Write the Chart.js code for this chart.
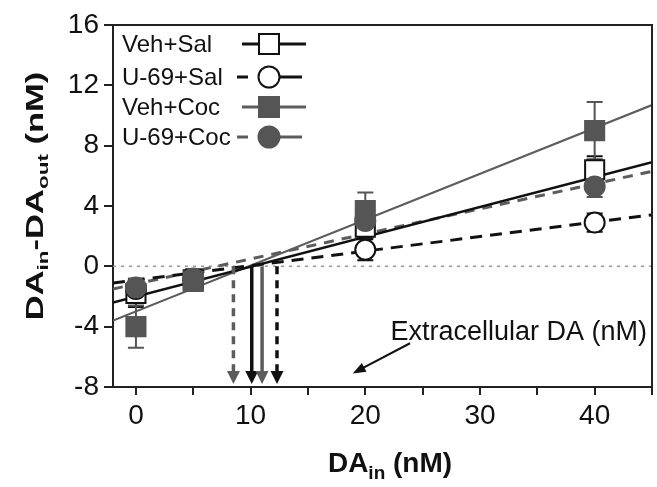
<!DOCTYPE html>
<html>
<head>
<meta charset="utf-8">
<script src="https://cdn.jsdelivr.net/npm/chart.js@4.4.0/dist/chart.umd.min.js"></script>
<style>
  body { margin: 0; background: #fff; }
  #wrap { width: 657px; height: 487px; }
</style>
</head>
<body>
<div id="wrap"><canvas id="chart" width="657" height="487"></canvas></div>
<script>
// data
const doseValues = [0, 5, 20, 40];
const seriesLabels = ["Veh+Sal", "U-69+Sal", "Veh+Coc", "U-69+Coc"];
const vehSal = [-1.8, -0.9, 2.6, 6.4];
const vehSalErr = [0.9, 0.7, 0.7, 0.9];
const u69Sal = [-1.5, -0.9, 1.1, 2.9];
const u69SalErr = [0.5, 0.6, 0.7, 0.6];
const vehCoc = [-4.0, -1.0, 3.7, 9.0];
const vehCocErr = [1.4, 0.6, 1.2, 1.9];
const u69Coc = [-1.4, -0.8, 3.0, 5.3];
const u69CocErr = [0.6, 0.5, 0.6, 0.7];

// linear fit lines (slope, intercept) as drawn in the figure
const fitSlopes = [0.198, 0.096, 0.304, 0.166];
const fitIntercepts = [-2.0, -0.91, -2.99, -1.17];

// x-intercept arrows
const arrowX = [8.5, 10.1, 11.0, 12.3];
const arrowFromY = 0;
const arrowToY = -7.8;

// annotation
const noteText = "Extracellular DA (nM)";
const notePos = [22.2, -4.87];
const noteArrowFrom = [23.9, -5.1];
const noteArrowTo = [18.9, -7.1];

// axes
const xMin = -2, xMax = 45;
const yMin = -8, yMax = 16;
const xTickValues = [0, 5, 10, 15, 20, 25, 30, 35, 40, 45];
const xLabelValues = [0, 10, 20, 30, 40];

const BLACK = "#111";
const GRAY = "#555";
const GRAY_LINE = "#5c5c5c";
const FONT = "'Liberation Sans', Arial, sans-serif";

// styles per series
const seriesStyle = [
  { values: vehSal, errors: vehSalErr, color: BLACK, fill: "#fff", shape: "rect", lineColor: BLACK, dash: [], lineWidth: 2.5 },
  { values: u69Sal, errors: u69SalErr, color: BLACK, fill: "#fff", shape: "circle", lineColor: BLACK, dash: [12, 8], lineWidth: 3 },
  { values: vehCoc, errors: vehCocErr, color: GRAY, fill: GRAY, shape: "rect", lineColor: GRAY_LINE, dash: [], lineWidth: 2.2 },
  { values: u69Coc, errors: u69CocErr, color: GRAY, fill: GRAY, shape: "circle", lineColor: GRAY_LINE, dash: [10, 8], lineWidth: 3 }
];
const arrowStyle = [
  { color: GRAY_LINE, dash: [8, 6] },
  { color: BLACK, dash: [] },
  { color: GRAY_LINE, dash: [] },
  { color: BLACK, dash: [8, 6] }
];

// datasets
const datasets = [];
datasets.push({
  type: "line",
  data: [{ x: xMin, y: 0 }, { x: xMax, y: 0 }],
  borderColor: "#9a9a9a",
  borderWidth: 1.5,
  borderDash: [3, 5],
  pointRadius: 0,
  order: 20
});
seriesStyle.forEach((s, i) => {
  datasets.push({
    type: "line",
    data: [xMin, xMax].map(x => ({ x: x, y: fitIntercepts[i] + fitSlopes[i] * x })),
    borderColor: s.lineColor,
    borderWidth: s.lineWidth,
    borderDash: s.dash,
    pointRadius: 0,
    order: 10 + i
  });
});
seriesStyle.forEach((s, i) => {
  datasets.push({
    type: "scatter",
    label: seriesLabels[i],
    data: doseValues.map((x, j) => ({ x: x, y: s.values[j] })),
    pointStyle: s.shape,
    pointRadius: s.shape === "rect" ? 13.5 : 10,
    pointBackgroundColor: s.fill,
    pointBorderColor: s.color,
    pointBorderWidth: 2,
    order: 4 - i
  });
});

function drawMarker(ctx, shape, x, y, size, fill, stroke) {
  ctx.beginPath();
  if (shape === "rect") ctx.rect(x - size / 2, y - size / 2, size, size);
  else ctx.arc(x, y, size / 2, 0, Math.PI * 2);
  ctx.fillStyle = fill;
  ctx.fill();
  ctx.lineWidth = 2;
  ctx.strokeStyle = stroke;
  ctx.stroke();
}

function arrowHead(ctx, x, y, angle, len, width, color) {
  ctx.save();
  ctx.translate(x, y);
  ctx.rotate(angle);
  ctx.beginPath();
  ctx.moveTo(0, 0);
  ctx.lineTo(-len, -width / 2);
  ctx.lineTo(-len, width / 2);
  ctx.closePath();
  ctx.fillStyle = color;
  ctx.fill();
  ctx.restore();
}

const errorBarPlugin = {
  id: "errorBars",
  beforeDatasetsDraw(chart) {
    const { ctx, scales: { x, y } } = chart;
    ctx.save();
    seriesStyle.forEach(s => {
      ctx.strokeStyle = s.color;
      ctx.lineWidth = 2;
      doseValues.forEach((v, j) => {
        const px = x.getPixelForValue(v);
        const top = y.getPixelForValue(s.values[j] + s.errors[j]);
        const bot = y.getPixelForValue(s.values[j] - s.errors[j]);
        ctx.beginPath();
        ctx.moveTo(px, top); ctx.lineTo(px, bot);
        ctx.moveTo(px - 8, top); ctx.lineTo(px + 8, top);
        ctx.moveTo(px - 8, bot); ctx.lineTo(px + 8, bot);
        ctx.stroke();
      });
    });
    ctx.restore();
  }
};

const arrowPlugin = {
  id: "arrows",
  afterDatasetsDraw(chart) {
    const { ctx, scales: { x, y } } = chart;
    ctx.save();
    arrowX.forEach((v, i) => {
      const st = arrowStyle[i];
      const px = x.getPixelForValue(v);
      const top = y.getPixelForValue(arrowFromY);
      const tip = y.getPixelForValue(arrowToY);
      ctx.beginPath();
      ctx.setLineDash(st.dash);
      ctx.strokeStyle = st.color;
      ctx.lineWidth = 3.5;
      ctx.moveTo(px, top);
      ctx.lineTo(px, tip - 11);
      ctx.stroke();
      ctx.setLineDash([]);
      arrowHead(ctx, px, tip, Math.PI / 2, 13, 13, st.color);
    });
    // annotation arrow
    const ax0 = x.getPixelForValue(noteArrowFrom[0]), ay0 = y.getPixelForValue(noteArrowFrom[1]);
    const ax1 = x.getPixelForValue(noteArrowTo[0]), ay1 = y.getPixelForValue(noteArrowTo[1]);
    const ang = Math.atan2(ay1 - ay0, ax1 - ax0);
    ctx.beginPath();
    ctx.strokeStyle = BLACK;
    ctx.lineWidth = 2;
    ctx.moveTo(ax0, ay0);
    ctx.lineTo(ax1 - 8 * Math.cos(ang), ay1 - 8 * Math.sin(ang));
    ctx.stroke();
    arrowHead(ctx, ax1, ay1, ang, 13, 10, BLACK);
    ctx.font = "27px " + FONT;
    ctx.fillStyle = BLACK;
    ctx.textBaseline = "alphabetic";
    ctx.textAlign = "left";
    ctx.fillText(noteText, x.getPixelForValue(notePos[0]), y.getPixelForValue(notePos[1]));
    ctx.restore();
  }
};

const framePlugin = {
  id: "frame",
  afterDraw(chart) {
    const { ctx, chartArea: a } = chart;
    ctx.save();
    ctx.strokeStyle = "#222";
    ctx.lineWidth = 2;
    ctx.beginPath();
    ctx.moveTo(a.left, a.top);
    ctx.lineTo(a.right, a.top);
    ctx.lineTo(a.right, a.bottom);
    ctx.stroke();
    ctx.restore();
  }
};

// legend drawn at the upper left of the plot
const legendRowY = [19, 52, 82, 112];
const legendPlugin = {
  id: "customLegend",
  afterDraw(chart) {
    const { ctx, chartArea: a } = chart;
    ctx.save();
    ctx.font = "24px " + FONT;
    ctx.textBaseline = "middle";
    seriesStyle.forEach((s, i) => {
      const cy = a.top + legendRowY[i];
      ctx.fillStyle = BLACK;
      ctx.fillText(seriesLabels[i], a.left + 9, cy + 1);
      const mx = a.left + 156;
      ctx.strokeStyle = s.lineColor;
      ctx.lineWidth = 3;
      ctx.beginPath();
      if (s.dash.length) {
        ctx.moveTo(a.left + 124, cy); ctx.lineTo(a.left + 135, cy);
        ctx.moveTo(mx, cy); ctx.lineTo(a.left + 189, cy);
      } else {
        ctx.moveTo(a.left + 129, cy); ctx.lineTo(a.left + 193, cy);
      }
      ctx.stroke();
      drawMarker(ctx, s.shape, mx, cy, s.shape === "rect" ? 20 : 21, s.fill, s.color);
    });
    ctx.restore();
  }
};

const titlePlugin = {
  id: "axisTitles",
  afterDraw(chart) {
    const { ctx } = chart;
    const big = "bold 23px " + FONT, small = "bold 15px " + FONT;
    const parts = [["DA", big, 0], ["in", small, 5], ["-DA", big, 0], ["out", small, 5], [" (nM)", big, 0]];
    ctx.save();
    ctx.fillStyle = BLACK;
    ctx.textBaseline = "alphabetic";
    ctx.textAlign = "left";
    // y title, rotated
    ctx.save();
    ctx.translate(43, 196);
    ctx.rotate(-Math.PI / 2);
    ctx.scale(1.5, 1);
    let total = 0;
    parts.forEach(p => { ctx.font = p[1]; total += ctx.measureText(p[0]).width; });
    let cx = -total / 2;
    parts.forEach(p => { ctx.font = p[1]; ctx.fillText(p[0], cx, p[2]); cx += ctx.measureText(p[0]).width; });
    ctx.restore();
    // x title
    const xParts = [["DA", "bold 28px " + FONT, 0], ["in", "bold 19px " + FONT, 7], [" (nM)", "bold 28px " + FONT, 0]];
    total = 0;
    xParts.forEach(p => { ctx.font = p[1]; total += ctx.measureText(p[0]).width; });
    cx = 390 - total / 2;
    xParts.forEach(p => { ctx.font = p[1]; ctx.fillText(p[0], cx, 472 + p[2]); cx += ctx.measureText(p[0]).width; });
    ctx.restore();
  }
};

new Chart(document.getElementById("chart"), {
  type: "scatter",
  data: { datasets: datasets },
  options: {
    responsive: false,
    animation: false,
    layout: { autoPadding: false, padding: { top: 25, right: 5, left: 0, bottom: 0 } },
    plugins: { legend: { display: false }, tooltip: { enabled: false } },
    scales: {
      x: {
        type: "linear",
        min: xMin,
        max: xMax,
        afterBuildTicks: scale => { scale.ticks = xTickValues.map(v => ({ value: v })); },
        afterFit: scale => { scale.height = 100; scale.paddingLeft = 0; scale.paddingRight = 0; },
        ticks: {
          autoSkip: false,
          maxRotation: 0,
          padding: 4,
          color: BLACK,
          font: { family: FONT, size: 28 },
          callback: v => (xLabelValues.includes(v) ? String(v) : "")
        },
        grid: { drawOnChartArea: false, drawTicks: true, tickLength: 8, color: "#222", lineWidth: 2 },
        border: { display: true, color: "#222", width: 2 }
      },
      y: {
        min: yMin,
        max: yMax,
        afterFit: scale => { scale.width = 113; },
        ticks: {
          stepSize: 2,
          padding: 5,
          color: BLACK,
          font: { family: FONT, size: 28 },
          callback: v => (v % 4 === 0 ? String(v) : "")
        },
        grid: { drawOnChartArea: false, drawTicks: true, tickLength: 9, color: "#222", lineWidth: 2 },
        border: { display: true, color: "#222", width: 2 }
      }
    }
  },
  plugins: [errorBarPlugin, arrowPlugin, framePlugin, legendPlugin, titlePlugin]
});
</script>
</body>
</html>
